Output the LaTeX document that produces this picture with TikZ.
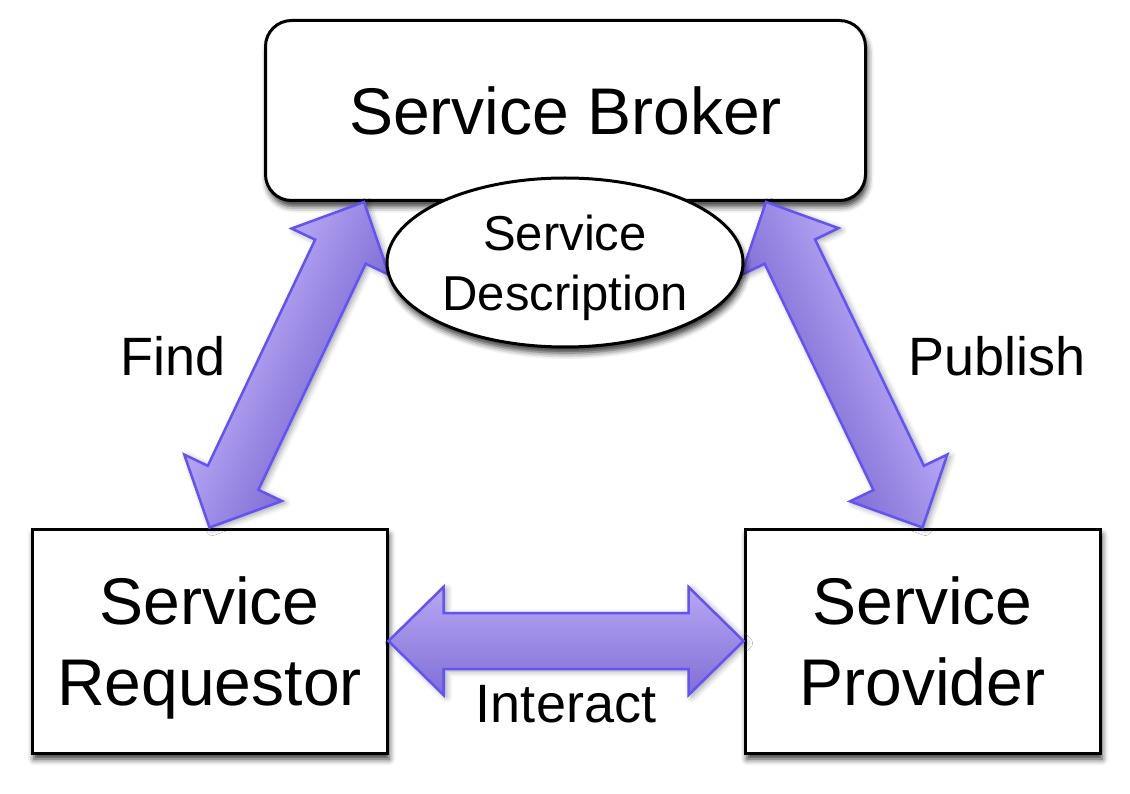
\documentclass[tikz,border=0pt]{standalone}
\usepackage{fontspec}
\setmainfont{Liberation Sans}
\usetikzlibrary{calc,shapes.geometric,shadows.blur}

\definecolor{arrowlight}{RGB}{184,168,244}
\definecolor{arrowdark}{RGB}{128,110,212}
\definecolor{arrowline}{RGB}{98,82,250}

\pgfdeclareverticalshading{fatshade}{420bp}{color(0bp)=(arrowdark); color(110bp)=(arrowlight)}

\tikzset{
  softshadow/.style={blur shadow={shadow xshift=2pt, shadow yshift=-6pt, shadow blur radius=6pt, shadow opacity=80}},
  box/.style={draw, line width=3pt, fill=white, align=center, inner sep=0pt,
    minimum width=355pt, minimum height=224pt,
    font=\fontsize{66}{81}\selectfont, softshadow},
  broker/.style={box, rounded corners=26pt, minimum width=600pt, minimum height=180pt},
  descr/.style={ellipse, draw, line width=3pt, fill=white, align=center, inner sep=0pt,
    minimum width=356pt, minimum height=169pt,
    font=\fontsize{49}{60}\selectfont, softshadow},
  fatarrow/.style={draw=arrowline, line width=2.5pt,
    blur shadow={shadow xshift=3pt, shadow yshift=-2pt, shadow blur radius=6pt, shadow opacity=40}},
  action/.style={font=\fontsize{54}{65}\selectfont, anchor=base},
}

% fat double arrow from #1 to #2, gradient turned by #3
\newcommand\fatarrow[3]{%
  \path[fatarrow, path picture={%
      \pgftext[at=\pgfpointanchor{path picture bounding box}{center},rotate=#3]{\pgfuseshading{fatshade}}}]
    (#1) -- ($(#1)!55pt!(#2)!54pt!90:(#2)$)
    -- ($(#1)!55pt!(#2)!28pt!90:(#2)$)
    -- ($(#2)!55pt!(#1)!28pt!-90:(#1)$)
    -- ($(#2)!55pt!(#1)!54pt!-90:(#1)$)
    -- (#2)
    -- ($(#2)!55pt!(#1)!54pt!90:(#1)$)
    -- ($(#2)!55pt!(#1)!28pt!90:(#1)$)
    -- ($(#1)!55pt!(#2)!28pt!-90:(#2)$)
    -- ($(#1)!55pt!(#2)!54pt!-90:(#2)$)
    -- cycle;}

\begin{document}
\begin{tikzpicture}[x=1pt,y=-1pt]
    \useasboundingbox (0,0) rectangle (1130,794);

    \node (broker) [broker] at (565.5,110.5) {Service Broker};
    \node (req) [box] at (209.5,641) {Service\\Re\smash{q}uestor};
    \node (prov) [box] at (922.5,641) {Service\\Provider};

    \coordinate (findtop) at ($(broker.south west)+(100,0)$);
    \coordinate (pubtop) at ($(broker.south east)+(-101,0)$);

    \fatarrow{req.north}{findtop}{64.6}
    \fatarrow{pubtop}{prov.north}{-64.4}
    \fatarrow{req.east}{prov.west}{0}

    \node (desc) [descr] at (565,262.5) {Service\\Descri\smash{p}tion};

    \node (find) [action] at (173,375) {Find};
    \node (publish) [action] at (997,375) {Publish};
    \node (interact) [action] at (566,722) {Interact};
\end{tikzpicture}
\end{document}
